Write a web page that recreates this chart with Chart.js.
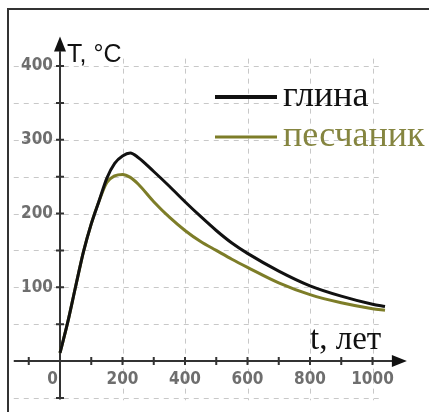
<!DOCTYPE html>
<html>
<head>
<meta charset="utf-8">
<script src="https://cdn.jsdelivr.net/npm/chart.js@4"></script>
<style>
    html, body { margin: 0; padding: 0; background: #fff; }
    #wrap { width: 429px; height: 412px; }
</style>
</head>
<body>
<div id="wrap"><canvas id="chart" width="429" height="412"></canvas></div>
<script>
// T(t) curves
const years = [0, 25, 50, 75, 100, 125, 150, 175, 200, 225, 250, 300, 350, 400, 450, 500, 550, 600, 700, 800, 900, 1000, 1040];
const clay = [11, 53, 101, 148, 186, 217, 248, 268, 278, 282, 276, 257, 237, 216, 196, 177, 160, 146, 122, 102, 88, 77, 74];
const sandstone = [11, 53, 101, 148, 186, 217, 242, 251, 253, 249, 240, 216, 195, 177, 162, 150, 138, 127, 106, 90, 79, 71, 69];

const xTicks = [200, 400, 600, 800, 1000];
const yTicks = [100, 200, 300, 400];
const xMinor = [-100, 100, 200, 300, 400, 500, 600, 700, 800, 900, 1000];
const yMinor = [-50, 50, 100, 150, 200, 250, 300, 350, 400];
const xGrid = [200, 400, 600, 800, 1000];
const yGrid = [-50, 50, 100, 150, 200, 250, 300, 350, 400];

const seriesNames = ['глина', 'песчаник'];
const seriesColors = ['#111111', '#7d7d28'];

const toPoints = vals => years.map((t, i) => ({ x: t, y: vals[i] }));

const axesPlugin = {
    id: 'sketchAxes',
    beforeDatasetsDraw(chart) {
        const ctx = chart.ctx;
        const xs = chart.scales.x, ys = chart.scales.y;
        const X = v => xs.getPixelForValue(v), Y = v => ys.getPixelForValue(v);
        ctx.save();

        // dashed grid
        ctx.strokeStyle = '#c8c8c8';
        ctx.lineWidth = 1;
        ctx.setLineDash([5, 5]);
        yGrid.forEach(v => {
            ctx.beginPath();
            ctx.moveTo(X(-148), Math.round(Y(v)) + 0.5);
            ctx.lineTo(X(1030), Math.round(Y(v)) + 0.5);
            ctx.stroke();
        });
        xGrid.forEach(v => {
            ctx.beginPath();
            ctx.moveTo(Math.round(X(v)) + 0.5, Y(410));
            ctx.lineTo(Math.round(X(v)) + 0.5, Y(-53));
            ctx.stroke();
        });
        ctx.setLineDash([]);

        // axes
        const x0 = X(0), y0 = Y(0);
        ctx.strokeStyle = '#333';
        ctx.fillStyle = '#111';
        ctx.lineWidth = 2;
        ctx.beginPath();
        ctx.moveTo(X(-148), y0); ctx.lineTo(X(1070), y0);
        ctx.moveTo(x0, Y(-52)); ctx.lineTo(x0, Y(420));
        ctx.stroke();

        // arrows
        const ax = X(1110);
        ctx.beginPath();
        ctx.moveTo(ax, y0); ctx.lineTo(ax - 15, y0 - 6); ctx.lineTo(ax - 15, y0 + 6);
        ctx.closePath(); ctx.fill();
        const ay = Y(440);
        ctx.beginPath();
        ctx.moveTo(x0, ay); ctx.lineTo(x0 - 6, ay + 15); ctx.lineTo(x0 + 6, ay + 15);
        ctx.closePath(); ctx.fill();

        // tick marks
        ctx.lineWidth = 2;
        ctx.beginPath();
        xMinor.forEach(v => { ctx.moveTo(X(v), y0 - 4); ctx.lineTo(X(v), y0 + 4); });
        yMinor.forEach(v => { ctx.moveTo(x0 - 4, Y(v)); ctx.lineTo(x0 + 4, Y(v)); });
        ctx.stroke();
        ctx.restore();
    },
    afterDatasetsDraw(chart) {
        const ctx = chart.ctx;
        const xs = chart.scales.x, ys = chart.scales.y;
        const X = v => xs.getPixelForValue(v), Y = v => ys.getPixelForValue(v);
        ctx.save();

        // frame (top and left only)
        ctx.strokeStyle = '#333';
        ctx.lineWidth = 2;
        ctx.beginPath();
        ctx.moveTo(8, 412); ctx.lineTo(8, 9); ctx.lineTo(429, 9);
        ctx.stroke();

        // tick labels
        ctx.fillStyle = '#6e6e6e';
        ctx.font = "bold 17px 'DejaVu Sans Condensed', 'DejaVu Sans', sans-serif";
        ctx.textBaseline = 'middle';
        ctx.textAlign = 'right';
        yTicks.forEach(v => ctx.fillText(String(v), X(0) - 7, Y(v)));
        ctx.fillText('0', X(0) - 2, Y(0) + 19);
        ctx.textAlign = 'center';
        xTicks.forEach(v => ctx.fillText(String(v), X(v), Y(0) + 19));

        // axis titles
        ctx.fillStyle = '#111';
        ctx.textAlign = 'left';
        ctx.textBaseline = 'alphabetic';
        ctx.font = "25px 'Liberation Sans', Arial, sans-serif";
        ctx.fillText('T, °C', 67, 62);
        ctx.font = "33px 'Liberation Serif', 'Times New Roman', serif";
        ctx.fillText('t, лет', 310, 349);

        // legend
        ctx.font = "36px 'Liberation Serif', 'Times New Roman', serif";
        const rows = [97, 137];
        seriesNames.forEach((name, i) => {
            ctx.strokeStyle = seriesColors[i];
            ctx.lineWidth = i === 0 ? 4 : 3;
            ctx.beginPath();
            ctx.moveTo(215, rows[i]); ctx.lineTo(277, rows[i]);
            ctx.stroke();
            ctx.fillStyle = i === 0 ? '#111' : '#858540';
            ctx.fillText(name, 283, rows[i] + 9);
        });
        ctx.restore();
    }
};

new Chart(document.getElementById('chart'), {
    type: 'scatter',
    data: {
        datasets: [
            { label: seriesNames[0], data: toPoints(clay), borderColor: seriesColors[0], borderWidth: 3, showLine: true, pointRadius: 0, cubicInterpolationMode: 'monotone' },
            { label: seriesNames[1], data: toPoints(sandstone), borderColor: seriesColors[1], borderWidth: 3, showLine: true, pointRadius: 0, cubicInterpolationMode: 'monotone' }
        ]
    },
    options: {
        responsive: false,
        animation: false,
        layout: { padding: 0 },
        plugins: { legend: { display: false }, tooltip: { enabled: false } },
        scales: {
            x: { type: 'linear', min: -192, max: 1180.8, display: false },
            y: { type: 'linear', min: -69.1, max: 489.5, display: false }
        }
    },
    plugins: [axesPlugin]
});
</script>
</body>
</html>
